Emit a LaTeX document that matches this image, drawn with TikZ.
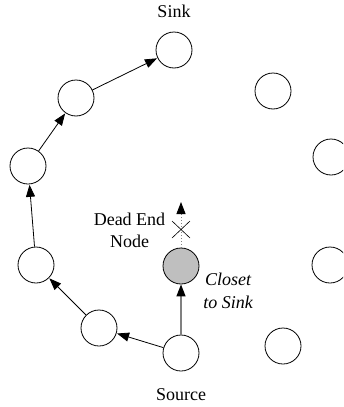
\documentclass[tikz,border=0pt]{standalone}
\usepackage{fontspec}
\setmainfont{Liberation Serif}
\usetikzlibrary{arrows.meta}
\begin{document}
\begin{tikzpicture}[x=1pt,y=-1pt,
  sensor/.style={circle,draw=black,line width=0.8pt,minimum size=36pt,inner sep=0pt},
  deadend/.style={sensor,fill=black!25},
  hop/.style={line width=0.8pt,-{Triangle[length=12pt,width=9pt]},shorten >=0.5pt},
  greedy/.style={draw=black!50,line width=1.3pt,-{Triangle[length=12pt,width=9pt,black]}},
  blocked/.style={draw=black!50,line width=1pt,dotted,-{Triangle[length=12pt,width=9pt,black]}},
  caption/.style={font=\fontsize{18}{22}\selectfont,inner sep=0pt,anchor=base,align=center}]
\useasboundingbox (0,0) rectangle (343,407);
\clip (0,0) rectangle (343,407);

% sensor nodes
\node[sensor] (sink) at (174,50) {};
\node[sensor] (n1) at (76,98) {};
\node[sensor] (n2) at (28,166) {};
\node[sensor] (n3) at (36,265) {};
\node[sensor] (n4) at (99,328) {};
\node[sensor] (src) at (181,353) {};
\node[deadend] (dead) at (181,266) {};
\node[sensor] (r1) at (273,91) {};
\node[sensor] (r2) at (331,157) {};
\node[sensor] (r3) at (330,265) {};
\node[sensor] (r4) at (283,346) {};

% labels
\node[caption] (sinklbl) at (174,17) {Sink};
\node[caption] (srclbl) at (181,400) {Source};
\node[caption] (deadlbl) at (129.5,247) {Dead End\\Node};
\node[caption,font=\fontsize{18}{23}\selectfont\itshape] (closelbl) at (228,308) {Closet\\to Sink};

% routing path around the void
\draw[hop] (src) -- (n4);
\draw[hop] (n4) -- (n3);
\draw[hop] (n3) -- (n2);
\draw[hop] (n2) -- (n1);
\draw[hop] (n1) -- (sink);

% greedy forwarding to the dead end
\draw[greedy] (src) -- (dead);
\coordinate (deadtip) at (181,202);
\draw[blocked] (dead) -- (deadtip);
\coordinate (xa) at (172,221);
\coordinate (xb) at (190,238);
\coordinate (xc) at (190,221);
\coordinate (xd) at (172,238);
\draw[line width=0.6pt] (xa) -- (xb) (xc) -- (xd);
\end{tikzpicture}
\end{document}
